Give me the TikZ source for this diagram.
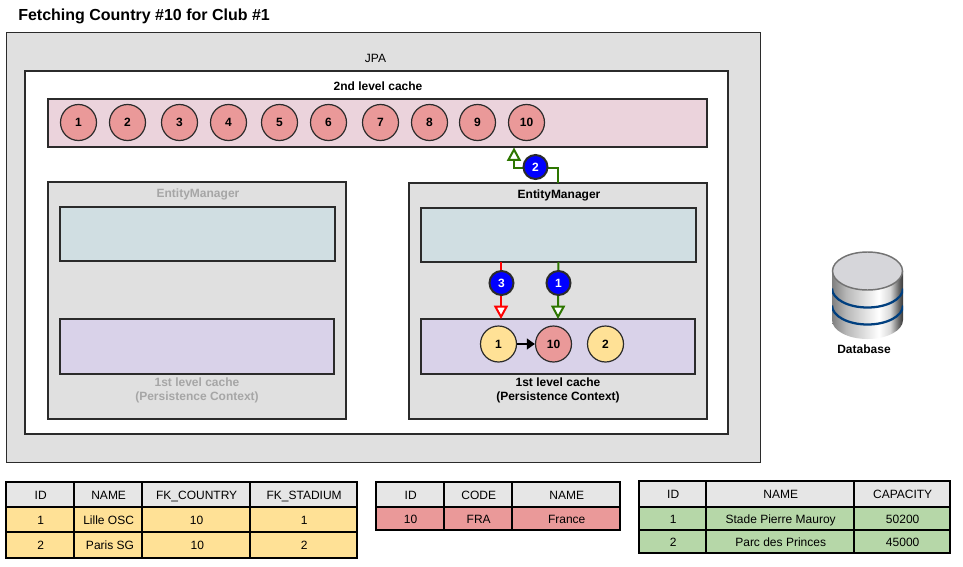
\documentclass[tikz,border=0pt]{standalone}
\usepackage{fontspec}
\setmainfont{Liberation Sans}
\usetikzlibrary{arrows.meta}
\definecolor{jpagray}{HTML}{E0E0E0}
\definecolor{lcache}{HTML}{EBD3DC}
\definecolor{teal}{HTML}{D0DEE2}
\definecolor{lilac}{HTML}{D9D2E9}
\definecolor{rosec}{HTML}{EA9999}
\definecolor{sandc}{HTML}{FFE196}
\definecolor{greenc}{HTML}{B6D7A8}
\definecolor{headc}{HTML}{E6E6E6}
\definecolor{edge}{HTML}{2B2B2B}
\definecolor{arrowgreen}{HTML}{2D7600}
\definecolor{dbband}{HTML}{003F7F}
\definecolor{dbtop}{HTML}{D6D6DA}
\pgfdeclarehorizontalshading{dbside}{100bp}{
  color(0bp)=(black!50);color(25bp)=(black!50);color(35bp)=(black!28);color(58bp)=(white);
  color(66bp)=(black!15);color(72bp)=(black!60);color(75bp)=(black!78);color(100bp)=(black!78)}
\tikzset{
  x=0.75pt,y=-0.75pt,
  boxy/.style={draw=edge,line width=1.5pt,inner sep=0pt,outer sep=0pt,rectangle,anchor=north west},
  cell/.style={draw=black,line width=1.9pt,inner sep=0pt,outer sep=0pt,rectangle,anchor=north west,text height=7.2pt,text depth=0pt,font=\fontsize{9}{11}\selectfont},
  headcell/.style={cell,fill=headc,font=\fontsize{9}{11}\selectfont},
  lbl/.style={inner sep=0pt,font=\fontsize{9}{10.5}\selectfont\bfseries,align=center},
  greylbl/.style={lbl,text=black!35},
  ball/.style={circle,draw=edge,line width=0.9pt,minimum size=27pt,inner sep=0pt,font=\fontsize{9}{11}\selectfont\bfseries},
  bluedot/.style={circle,draw=edge,line width=1.5pt,fill=blue,text=white,minimum size=18pt,inner sep=0pt,font=\fontsize{9}{11}\selectfont\bfseries},
  openhead/.style={-{Triangle[open,length=10pt,width=10.5pt,fill=white]},line width=1.5pt},
}
\newcommand{\bx}[7]{%
  \pgfmathsetmacro{\bw}{(#4-#2)*0.75}\pgfmathsetmacro{\bh}{(#5-#3)*0.75}%
  \node[#6,minimum width=\bw pt,minimum height=\bh pt] (#1) at (#2,#3) {\hspace{1pt}#7};}
\begin{document}
\begin{tikzpicture}
\useasboundingbox[fill=white] (0,0) rectangle (963,567);
\node[inner sep=0pt,anchor=west,font=\fontsize{12}{14}\selectfont\bfseries] (title) at (18,16.5) {Fetching Country \#10 for Club \#1};
% boxes
\bx{jpa}{6.5}{32.5}{760.5}{462.5}{boxy,fill=jpagray,line width=0.9pt}{}
\bx{inner}{25}{71}{728}{434}{boxy,fill=white}{}
\bx{ltwo}{48}{99}{707}{147}{boxy,fill=lcache}{}
\bx{emL}{48}{182}{346}{419}{boxy,fill=jpagray}{}
\bx{emR}{409}{183}{707}{419}{boxy,fill=jpagray}{}
\bx{tealL}{60}{207}{335}{261}{boxy,fill=teal}{}
\bx{tealR}{421}{208}{696}{262}{boxy,fill=teal}{}
\bx{lilacL}{60}{319}{334}{374}{boxy,fill=lilac}{}
\bx{lilacR}{421}{319}{695}{374}{boxy,fill=lilac}{}
% labels
\node[lbl,font=\fontsize{9}{11}\selectfont] (jpal) at (375.5,58) {JPA};
\node[lbl] (ltwol) at (378,86) {2nd level cache};
\node[greylbl] (emLl) at (198,194.5) {EntityManager};
\node[lbl] (emRl) at (559,195.5) {EntityManager};
\node[greylbl] (cacheL) at (197,390.5) {1st level cache\\(Persistence Context)};
\node[lbl] (cacheR) at (558,390.5) {1st level cache\\(Persistence Context)};
% second-level cache entries
\foreach \n/\x in {1/78.5,2/127.5,3/179.5,4/228.5,5/279.5,6/328.5,7/380.5,8/429.5,9/477.5,10/526.5}
  \node[ball,fill=rosec] (top\n) at (\x,122.5) {\n};
% first-level cache entries
\node[ball,fill=sandc] (pa) at (498.5,344) {1};
\node[ball,fill=rosec] (pb) at (553.5,344) {10};
\node[ball,fill=sandc] (pc) at (605.5,344) {2};
\draw[-{Triangle[length=6pt,width=8pt]},line width=1.5pt,black] (pa) -- (pb);
% connectors
\coordinate (upEnd) at (514,147.5);
\coordinate (redA) at (501,262);
\coordinate (redB) at (501,319);
\draw[openhead,arrowgreen] (emR.north) |- (514,168) -- (upEnd);
\draw[openhead,red] (redA) -- (redB);
\draw[openhead,arrowgreen] (tealR.south) -- (lilacR.north);
\node[bluedot] (dotb) at (535.5,167) {2};
\node[bluedot] (dotc) at (501.5,283) {3};
\node[bluedot] (dota) at (558.5,283) {1};
% database
\begin{scope}
  \clip (832,271) -- (832,320) arc[start angle=180,end angle=0,x radius=35.5,y radius=19] -- (903,271) -- cycle;
  \shade[shading=dbside] (832,250) rectangle (903,345);
  \draw[dbband,line width=1.7pt] (832,288.5) arc[start angle=180,end angle=0,x radius=35.5,y radius=19];
  \draw[dbband,line width=1.7pt] (832,305.5) arc[start angle=180,end angle=0,x radius=35.5,y radius=19];
\end{scope}
\draw[black!55,line width=1.1pt,fill=dbtop] (867.5,271) ellipse[x radius=35,y radius=19];
\node[lbl] (dbl) at (864,349.5) {Database};
% table clubs
\bx{aa}{6}{482}{74}{507}{headcell}{ID}
\bx{ab}{74}{482}{142}{507}{headcell}{NAME}
\bx{ac}{142}{482}{250}{507}{headcell}{FK\_COUNTRY}
\bx{ad}{250}{482}{357}{507}{headcell}{FK\_STADIUM}
\bx{ba}{6}{507}{74}{532}{cell,fill=sandc}{1}
\bx{bb}{74}{507}{142}{532}{cell,fill=sandc}{Lille OSC}
\bx{bc}{142}{507}{250}{532}{cell,fill=sandc}{10}
\bx{bd}{250}{507}{357}{532}{cell,fill=sandc}{1}
\bx{ca}{6}{532}{74}{558}{cell,fill=sandc}{2}
\bx{cb}{74}{532}{142}{558}{cell,fill=sandc}{\hspace{2pt}Paris SG}
\bx{cc}{142}{532}{250}{558}{cell,fill=sandc}{\hspace{1pt}10}
\bx{cd}{250}{532}{357}{558}{cell,fill=sandc}{2}
% table countries
\bx{da}{376}{482}{444}{507}{headcell}{ID}
\bx{db}{444}{482}{512}{507}{headcell}{CODE}
\bx{dc}{512}{482}{620}{507}{headcell}{NAME}
\bx{ea}{376}{507}{444}{530}{cell,fill=rosec}{10}
\bx{eb}{444}{507}{512}{530}{cell,fill=rosec}{FRA}
\bx{ec}{512}{507}{620}{530}{cell,fill=rosec}{France}
% table stadiums
\bx{fa}{639}{481}{706}{507}{headcell}{ID}
\bx{fb}{706}{481}{854}{507}{headcell}{NAME}
\bx{fc}{854}{481}{950}{507}{headcell}{CAPACITY}
\bx{ga}{639}{507}{706}{530}{cell,fill=greenc}{1}
\bx{gb}{706}{507}{854}{530}{cell,fill=greenc}{Stade Pierre Mauroy}
\bx{gc}{854}{507}{950}{530}{cell,fill=greenc}{50200}
\bx{ha}{639}{530}{706}{553}{cell,fill=greenc}{2}
\bx{hb}{706}{530}{854}{553}{cell,fill=greenc}{Parc des Princes}
\bx{hc}{854}{530}{950}{553}{cell,fill=greenc}{45000}
\end{tikzpicture}
\end{document}
